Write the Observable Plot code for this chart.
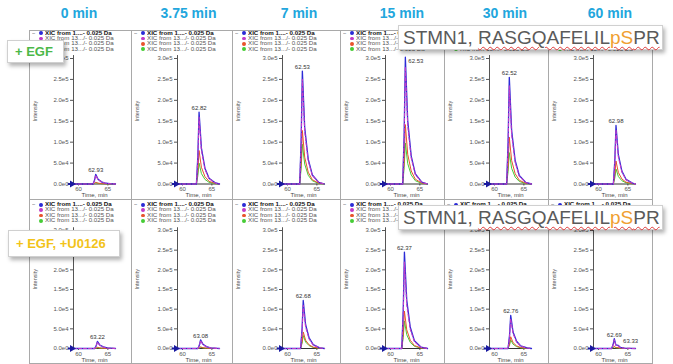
<!DOCTYPE html>
<html><head><meta charset="utf-8">
<script src="https://cdn.jsdelivr.net/npm/d3@7"></script>
<script src="https://cdn.jsdelivr.net/npm/@observablehq/plot@0.6"></script>
<style>
body{margin:0;background:#fff;font-family:"Liberation Sans",Arial,sans-serif;}
#root{position:relative;width:673px;height:364px;overflow:hidden;background:#fff;}
.hdr{position:absolute;top:5px;font-weight:bold;font-size:14px;line-height:16px;color:#22a6dd;transform:translateX(-50%);white-space:nowrap;}
.panel{position:absolute;box-sizing:border-box;border:1px solid #a9a9a9;}
.legend{position:absolute;font-size:4.7px;line-height:5.4px;white-space:nowrap;}
.legend .row{position:absolute;left:0;height:5.4px;width:90px;}
.legend .dash{position:absolute;left:0;top:0;color:#333;transform:scaleX(1.3);transform-origin:0 50%;}
.legend .dot{position:absolute;left:7px;top:0.8px;width:3.8px;height:3.8px;border-radius:50%;}
.legend .lab{position:absolute;left:12.5px;top:0;transform:scaleX(1.32);transform-origin:0 50%;}
.box{position:absolute;background:#fff;border:1px solid #d0d0d0;box-shadow:2px 3px 4px rgba(0,0,0,0.3);box-sizing:border-box;white-space:nowrap;}
.cond{font-weight:bold;font-size:13px;}
.pep{font-size:19px;color:#5a5a5a;}
.wavy{text-decoration:underline wavy #e03a3a;text-decoration-thickness:1px;text-underline-offset:2px;}
</style>
</head>
<body>
<div id="root"></div>
<script>
// ---------------- data ----------------
const timepoints = ["0 min", "3.75 min", "7 min", "15 min", "30 min", "60 min"];
const conditions = ["+ EGF", "+ EGF, +U0126"];
const traceNames = ["XIC from 1....- 0.025 Da", "XIC from 13.../- 0.025 Da", "XIC from 13.../- 0.025 Da", "XIC from 13.../- 0.025 Da"];
const traceKeys = ["xic1", "xic2", "xic3", "xic4"];
const yTicks = [0, 50000, 100000, 150000, 200000, 250000, 300000];
const xTicks = [60, 65];
const xLabel = "Time, min";
const yLabel = "Intensity";
const peptideParts = ["STMN1, ", "RASGQAFELIL", "pS", "PR"];

// retention times (min) of the read points, per panel
const egfTimes0   = [59.15, 62.48, 62.73, 62.93, 63.33, 63.93, 64.63, 65.73, 66.3];
const egfTimes375 = [59.15, 62.37, 62.62, 62.82, 63.22, 63.82, 64.52, 65.62, 66.3];
const egfTimes7   = [59.15, 62.08, 62.33, 62.53, 62.93, 63.53, 64.23, 65.33, 66.3];
const egfTimes15  = [59.15, 62.08, 62.33, 62.53, 62.93, 63.53, 64.23, 65.33, 66.3];
const egfTimes30  = [59.15, 62.07, 62.32, 62.52, 62.92, 63.52, 64.22, 65.32, 66.3];
const egfTimes60  = [59.15, 62.53, 62.78, 62.98, 63.38, 63.98, 64.68, 65.78, 66.3];
const u0126Times0   = [59.15, 62.77, 63.02, 63.22, 63.62, 64.22, 64.92, 66.02, 66.3];
const u0126Times375 = [59.15, 62.63, 62.88, 63.08, 63.48, 64.08, 64.78, 65.88, 66.3];
const u0126Times7   = [59.15, 62.23, 62.48, 62.68, 63.08, 63.68, 64.38, 65.48, 66.3];
const u0126Times15  = [59.15, 61.92, 62.17, 62.37, 62.77, 63.37, 64.07, 65.17, 66.3];
const u0126Times30  = [59.15, 62.31, 62.56, 62.76, 63.16, 63.76, 64.46, 65.56, 66.3];
const u0126Times60  = [59.15, 62.24, 62.49, 62.69, 62.95, 63.33, 63.70, 64.40, 66.3];

// intensities of the four XIC traces, per panel
const egfXic0 = [
  [0, 0, 9200, 23000, 11500, 5100, 1800, 300, 0],
  [0, 0, 8400, 21000, 10500, 4600, 1700, 300, 0],
  [0, 0, 1600, 4000, 2000, 900, 300, 100, 0],
  [0, 0, 1200, 3000, 1500, 700, 200, 50, 0]];
const egfXic375 = [
  [0, 0, 68800, 172000, 86000, 37800, 13800, 2600, 0],
  [0, 0, 64000, 160000, 80000, 35200, 12800, 2400, 0],
  [0, 0, 32000, 80000, 40000, 17600, 6400, 1200, 0],
  [0, 0, 20000, 50000, 25000, 11000, 4000, 750, 0]];
const egfXic7 = [
  [0, 0, 108000, 270000, 135000, 59400, 21600, 4000, 0],
  [0, 0, 100000, 250000, 125000, 55000, 20000, 3800, 0],
  [0, 0, 51200, 128000, 64000, 28200, 10200, 1900, 0],
  [0, 0, 38000, 95000, 47500, 20900, 7600, 1400, 0]];
const egfXic15 = [
  [0, 0, 121200, 303000, 151500, 66700, 24200, 4500, 0],
  [0, 0, 112000, 280000, 140000, 61600, 22400, 4200, 0],
  [0, 0, 56800, 142000, 71000, 31200, 11400, 2100, 0],
  [0, 0, 39200, 98000, 49000, 21600, 7800, 1500, 0]];
const egfXic30 = [
  [0, 0, 102000, 255000, 127500, 56100, 20400, 3800, 0],
  [0, 0, 94000, 235000, 117500, 51700, 18800, 3500, 0],
  [0, 0, 44800, 112000, 56000, 24600, 9000, 1700, 0],
  [0, 0, 30000, 75000, 37500, 16500, 6000, 1100, 0]];
const egfXic60 = [
  [0, 0, 56000, 140000, 70000, 30800, 11200, 2100, 0],
  [0, 0, 52000, 130000, 65000, 28600, 10400, 2000, 0],
  [0, 0, 22000, 55000, 27500, 12100, 4400, 800, 0],
  [0, 0, 14400, 36000, 18000, 7900, 2900, 500, 0]];
const u0126Xic0 = [
  [0, 0, 7200, 18000, 9000, 4000, 1400, 300, 0],
  [0, 0, 6400, 16000, 8000, 3500, 1300, 200, 0],
  [0, 0, 1200, 3000, 1500, 700, 200, 50, 0],
  [0, 0, 800, 2000, 1000, 400, 160, 30, 0]];
const u0126Xic375 = [
  [0, 0, 8800, 22000, 11000, 4800, 1800, 300, 0],
  [0, 0, 8000, 20000, 10000, 4400, 1600, 300, 0],
  [0, 0, 1600, 4000, 2000, 900, 300, 60, 0],
  [0, 0, 1200, 3000, 1500, 700, 200, 50, 0]];
const u0126Xic7 = [
  [0, 0, 48800, 122000, 61000, 26800, 9800, 1800, 0],
  [0, 0, 44000, 110000, 55000, 24200, 8800, 1700, 0],
  [0, 0, 16800, 42000, 21000, 9200, 3400, 600, 0],
  [0, 0, 13200, 33000, 16500, 7300, 2600, 500, 0]];
const u0126Xic15 = [
  [0, 0, 98000, 245000, 122500, 53900, 19600, 3700, 0],
  [0, 0, 88000, 220000, 110000, 48400, 17600, 3300, 0],
  [0, 0, 38000, 95000, 47500, 20900, 7600, 1400, 0],
  [0, 0, 28000, 70000, 35000, 15400, 5600, 1100, 0]];
const u0126Xic30 = [
  [0, 0, 33600, 84000, 42000, 18500, 6700, 1300, 0],
  [0, 0, 30400, 76000, 38000, 16700, 6100, 1100, 0],
  [0, 0, 12000, 30000, 15000, 6600, 2400, 500, 0],
  [0, 0, 8800, 22000, 11000, 4800, 1800, 300, 0]];
const u0126Xic60 = [
  [0, 0, 10000, 25000, 9000, 8000, 3000, 800, 0],
  [0, 0, 9000, 22000, 8000, 7000, 2500, 600, 0],
  [0, 0, 2400, 6000, 2500, 2000, 800, 200, 0],
  [0, 0, 1600, 4000, 1700, 1400, 500, 100, 0]];

// labelled apex retention times
const egfApex = [62.93, 62.82, 62.53, 62.53, 62.52, 62.98];
const u0126Apex = [63.22, 63.08, 62.68, 62.37, 62.76, 62.69];
const u0126Extra60 = [{t: 63.33, v: 8000}];

// ---------------- layout & style ----------------
const traceColors = ["#2b2bd6", "#c23cc8", "#e8542c", "#46cc36"];
const colLeft = [29, 131, 232, 340, 444, 548, 652];
const colMarginLeft = [44, 46, 50, 45, 45, 45];
const hdrCenter = [79, 188.5, 299, 402, 505, 610];
const rowTop = [30, 199];
const rowHeight = [169, 164];
const rowMarginTop = [28, 31];
const rowMarginBottom = [15.5, 15];
const legendTop = [0.5, 3.0];
const legendStep = 5.4;
const plotW = 42;
const xDomain = [59.15, 66.3];

const root = document.getElementById("root");
const fmtE = d => d3.format(".1e")(d).replace("+", "");

timepoints.forEach((tp, i) => {
  const h = document.createElement("div");
  h.className = "hdr"; h.textContent = tp; h.style.left = hdrCenter[i] + "px";
  root.appendChild(h);
});

const allTimes = [
  [egfTimes0, egfTimes375, egfTimes7, egfTimes15, egfTimes30, egfTimes60],
  [u0126Times0, u0126Times375, u0126Times7, u0126Times15, u0126Times30, u0126Times60]];
const allXic = [
  [egfXic0, egfXic375, egfXic7, egfXic15, egfXic30, egfXic60],
  [u0126Xic0, u0126Xic375, u0126Xic7, u0126Xic15, u0126Xic30, u0126Xic60]];
const allApex = [egfApex, u0126Apex];

for (let r = 0; r < 2; r++) {
  for (let c = 0; c < 6; c++) {
    const left = colLeft[c], w = colLeft[c + 1] - colLeft[c];
    const top = rowTop[r], hgt = rowHeight[r];
    const pd = document.createElement("div");
    pd.className = "panel";
    pd.style.cssText += `left:${left}px;top:${top}px;width:${w + 1}px;height:${hgt + 1}px;`;
    root.appendChild(pd);

    const times = allTimes[r][c], xic = allXic[r][c];
    const rows = [];
    xic.forEach((series, k) => series.forEach((v, i) => rows.push({t: times[i], v, trace: traceKeys[k]})));
    const apexT = allApex[r][c];
    const apexV = d3.max(xic[0]);
    const ml = colMarginLeft[c];
    const special = (r === 0 && c === 3);
    const lineFor = (k, extra) => Plot.line(rows.filter(d => d.trace === traceKeys[k]),
      Object.assign({x: "t", y: "v", stroke: traceColors[k], strokeWidth: 1}, extra || {}));

    const marks = [
      Plot.ruleY([0], {stroke: "#333", strokeWidth: 1}),
      Plot.ruleX([xDomain[0]], {y1: 0, y2: 307000, stroke: "#555", strokeWidth: 1}),
      lineFor(3), lineFor(2),
      lineFor(0, {strokeWidth: 1.3}),
      lineFor(1, {strokeDasharray: "3,2", strokeWidth: 1.1}),
      Plot.ruleY([0], {x1: 58.25, x2: 59.0, stroke: "#1a1aa0", strokeWidth: 2}),
      Plot.dot([{t: xDomain[0], v: 0}], {x: "t", y: "v", symbol: "triangle", rotate: 90, r: 2.6, fill: "#1a1aa0", dx: -1.5}),
      Plot.text([{t: apexT, v: apexV}], {x: "t", y: "v", text: d => d.t.toFixed(2),
        dx: special ? 3 : 0, dy: special ? 4 : -4, textAnchor: special ? "start" : "middle",
        fontSize: 6, fill: "#333"}),
      Plot.text([yLabel], {text: d => d, frameAnchor: "left", rotate: -90, dx: -(ml - 6), fontSize: 5.5, fill: "#555"}),
      Plot.text([xLabel], {text: d => d, frameAnchor: "bottom", lineAnchor: "middle", dy: 11.5, fontSize: 6, fill: "#444"})
    ];
    if (r === 1 && c === 5) {
      marks.push(Plot.text(u0126Extra60, {x: "t", y: "v", text: d => d.t.toFixed(2), dx: 5, dy: -4, textAnchor: "start", fontSize: 6, fill: "#333"}));
    }
    const svg = Plot.plot({
      width: w, height: hgt,
      marginLeft: ml, marginRight: w - ml - plotW, marginTop: rowMarginTop[r], marginBottom: rowMarginBottom[r],
      style: {fontFamily: '"Liberation Sans", Arial, sans-serif', fontSize: "6px", color: "#555", background: "transparent", overflow: "visible"},
      x: {domain: xDomain, ticks: xTicks, tickSize: 2, tickPadding: 1, tickFormat: d => String(d), label: null},
      y: {domain: [0, 300000], ticks: yTicks, tickSize: 3, tickPadding: 2, tickFormat: fmtE, label: null},
      marks
    });
    svg.style.position = "absolute";
    svg.style.left = left + "px";
    svg.style.top = top + "px";
    root.appendChild(svg);

    // legend
    const lg = document.createElement("div");
    lg.className = "legend";
    lg.style.left = (left + 3) + "px";
    lg.style.top = (top + legendTop[r]) + "px";
    traceNames.forEach((name, k) => {
      const row = document.createElement("div");
      row.className = "row";
      row.style.top = (k * legendStep) + "px";
      const dash = document.createElement("span"); dash.className = "dash"; dash.textContent = k === 0 ? "\u2212" : "";
      const dot = document.createElement("span"); dot.className = "dot"; dot.style.background = traceColors[k];
      const lab = document.createElement("span"); lab.className = "lab"; lab.textContent = name;
      lab.style.fontWeight = k === 0 ? "bold" : "normal";
      lab.style.color = k === 0 ? "#111" : "#555";
      row.append(dash, dot, lab);
      lg.appendChild(row);
    });
    root.appendChild(lg);
  }
}

// condition boxes
const condBoxes = [
  {left: 7, top: 40, w: 57, h: 23, color: "#4cb848"},
  {left: 8, top: 230, w: 112, h: 27, color: "#f2c318"}];
conditions.forEach((txt, i) => {
  const b = document.createElement("div");
  b.className = "box cond";
  const s = condBoxes[i];
  b.style.cssText += `left:${s.left}px;top:${s.top}px;width:${s.w}px;height:${s.h}px;line-height:${s.h - 2}px;padding-left:7px;color:${s.color};`;
  b.textContent = txt;
  root.appendChild(b);
});

// peptide boxes
[25, 205].forEach(t => {
  const b = document.createElement("div");
  b.className = "box pep";
  b.style.cssText += `left:398px;top:${t}px;width:265px;height:25px;line-height:23px;padding-left:4px;`;
  const a = document.createElement("span"); a.textContent = peptideParts[0];
  const wv = document.createElement("span"); wv.className = "wavy";
  const p1 = document.createElement("span"); p1.textContent = peptideParts[1];
  const p2 = document.createElement("span"); p2.textContent = peptideParts[2]; p2.style.color = "#f0a030";
  const p3 = document.createElement("span"); p3.textContent = peptideParts[3];
  wv.append(p1, p2, p3);
  b.append(a, wv);
  root.appendChild(b);
});
</script>
</body></html>
